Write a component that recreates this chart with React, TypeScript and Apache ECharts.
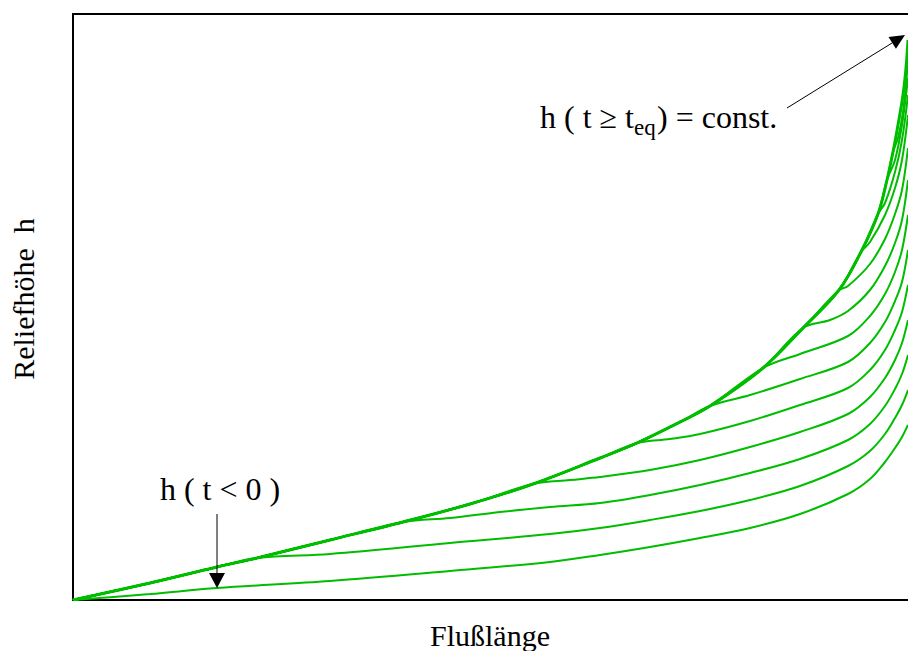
import React, { useEffect, useRef } from "react";
import * as echarts from "echarts";

type Pt = [number, number];

// Equilibrium profile (envelope), river length vs. relief height (arbitrary units)
const envelope: Pt[] = [
  [0, 0], [77, 17], [144, 33], [184, 42], [257, 60], [330, 78], [397, 96], [460, 116],
  [527, 142], [564, 157], [607, 178], [637, 194], [690, 232], [730, 272], [766, 310],
  [788, 348], [805, 386], [814, 420], [820, 448], [825, 475], [830, 505], [833, 532], [835, 560],
];

// Index on the envelope where each transient profile leaves it
const junctions = [0, 3, 5, 7, 9, 11, 12, 13, 14, 15, 16, 17, 18];

const tail1: Pt[] = [[77, 6], [144, 12], [257, 19], [377, 29], [477, 38], [527, 45], [577, 53], [627, 62], [677, 72], [727, 86], [775, 106], [797, 121], [812, 138], [822, 152], [829, 163], [835, 175]];
const tail2: Pt[] = [[257, 46], [377, 57], [477, 66], [527, 72], [577, 80], [627, 89], [677, 100], [727, 114], [775, 134], [797, 149], [812, 166], [822, 182], [829, 195], [835, 210]];
const tail3: Pt[] = [[377, 82], [427, 88], [477, 93], [527, 97], [577, 105], [627, 115], [677, 127], [727, 141], [775, 160], [797, 176], [812, 194], [822, 211], [829, 226], [835, 245]];
const tail4: Pt[] = [[497, 120], [527, 123], [577, 130], [627, 140], [677, 153], [727, 168], [775, 186], [797, 203], [812, 222], [822, 240], [829, 257], [835, 280]];
const tail5: Pt[] = [[597, 161], [627, 166], [677, 179], [727, 195], [775, 212], [797, 230], [812, 250], [822, 270], [829, 288], [835, 315]];
const tail6: Pt[] = [[677, 205], [727, 221], [775, 238], [797, 257], [812, 278], [822, 299], [829, 318], [835, 350]];
const tail7: Pt[] = [[727, 246], [775, 264], [797, 284], [812, 306], [822, 328], [829, 350], [835, 385]];
const tail8: Pt[] = [[757, 280], [775, 289], [797, 310], [812, 334], [822, 357], [829, 380], [835, 420]];
const tail9: Pt[] = [[775, 314], [797, 336], [812, 361], [822, 386], [829, 410], [835, 452]];
const tail10: Pt[] = [[797, 358], [812, 385], [822, 412], [829, 440], [835, 485]];
const tail11: Pt[] = [[812, 397], [822, 428], [829, 460], [835, 505]];
const tail12: Pt[] = [[822, 440], [829, 475], [835, 522]];
const tail13: Pt[] = [[825, 462], [830, 488], [835, 538]];

const tails = [tail1, tail2, tail3, tail4, tail5, tail6, tail7, tail8, tail9, tail10, tail11, tail12, tail13];

const X_MAX = 835;
const Y_MAX = 586;

const GREEN = "#00bd00";
const FONT = "'Liberation Serif', 'Times New Roman', Times, serif";

function arrowParts(from: number[], tip: number[], len: number, half: number) {
  const dx = tip[0] - from[0];
  const dy = tip[1] - from[1];
  const L = Math.hypot(dx, dy);
  const ux = dx / L;
  const uy = dy / L;
  const bx = tip[0] - ux * len;
  const by = tip[1] - uy * len;
  return {
    line: { x1: from[0], y1: from[1], x2: bx, y2: by },
    head: [
      [tip[0], tip[1]],
      [bx - uy * half, by + ux * half],
      [bx + uy * half, by - ux * half],
    ],
  };
}

export default function App() {
  const ref = useRef<HTMLDivElement>(null);

  useEffect(() => {
    document.body.style.margin = "0";
    if (!ref.current) return;
    const chart = echarts.init(ref.current, undefined, { renderer: "svg" });

    const thin = tails.map((t, i) => ({
      type: "line",
      data: envelope.slice(0, junctions[i] + 1).concat(t),
      showSymbol: false,
      smooth: 0.35,
      lineStyle: { color: GREEN, width: 2 },
      z: 2,
      silent: true,
    }));

    const axisLine = { show: true, onZero: false, lineStyle: { color: "#000", width: 2 } };

    chart.setOption({
      animation: false,
      backgroundColor: "#fff",
      grid: { left: 73, right: 0, top: 14, bottom: 51, containLabel: false },
      xAxis: [
        { type: "value", min: 0, max: X_MAX, position: "bottom", axisLine, axisTick: { show: false }, axisLabel: { show: false }, splitLine: { show: false } },
        { type: "value", min: 0, max: X_MAX, position: "top", axisLine, axisTick: { show: false }, axisLabel: { show: false }, splitLine: { show: false } },
      ],
      yAxis: { type: "value", min: 0, max: Y_MAX, position: "left", axisLine, axisTick: { show: false }, axisLabel: { show: false }, splitLine: { show: false } },
      series: [
        ...thin,
        {
          type: "line",
          data: envelope,
          showSymbol: false,
          smooth: 0.35,
          lineStyle: { color: GREEN, width: 3 },
          z: 3,
          silent: true,
        },
      ],
    });

    const p = (x: number, y: number) => chart.convertToPixel({ gridIndex: 0 }, [x, y]) as number[];
    const a1 = arrowParts(p(714, 492), p(832, 565), 15, 7);
    const a2 = arrowParts(p(144, 86), p(144, 12), 15, 8);

    const textStyle = (extra: any) => ({ fill: "#000", fontFamily: FONT, ...extra });

    chart.setOption({
      graphic: [
        { type: "line", shape: a1.line, style: { stroke: "#000", lineWidth: 1 }, z: 10 },
        { type: "polygon", shape: { points: a1.head }, style: { fill: "#000" }, z: 10 },
        { type: "line", shape: a2.line, style: { stroke: "#000", lineWidth: 1 }, z: 10 },
        { type: "polygon", shape: { points: a2.head }, style: { fill: "#000" }, z: 10 },
        { type: "text", x: 540, y: 117, style: textStyle({ text: "h ( t ≥ t", fontSize: 32, textAlign: "left", textVerticalAlign: "middle" }), z: 10 },
        { type: "text", x: 634, y: 127, style: textStyle({ text: "eq", fontSize: 23, textAlign: "left", textVerticalAlign: "middle" }), z: 10 },
        { type: "text", x: 657, y: 117, style: textStyle({ text: ") = const.", fontSize: 32, textAlign: "left", textVerticalAlign: "middle" }), z: 10 },
        { type: "text", x: 220, y: 489, style: textStyle({ text: "h ( t < 0 )", fontSize: 32, textAlign: "center", textVerticalAlign: "middle" }), z: 10 },
        { type: "text", x: 490, y: 635, style: textStyle({ text: "Flußlänge", fontSize: 30, textAlign: "center", textVerticalAlign: "middle" }), z: 10 },
        { type: "text", x: 23, y: 299, rotation: Math.PI / 2, style: textStyle({ text: "Reliefhöhe  h", fontSize: 30, textAlign: "center", textVerticalAlign: "middle" }), z: 10 },
      ],
    });

    return () => chart.dispose();
  }, []);

  return <div ref={ref} style={{ width: 908, height: 651 }} />;
}
